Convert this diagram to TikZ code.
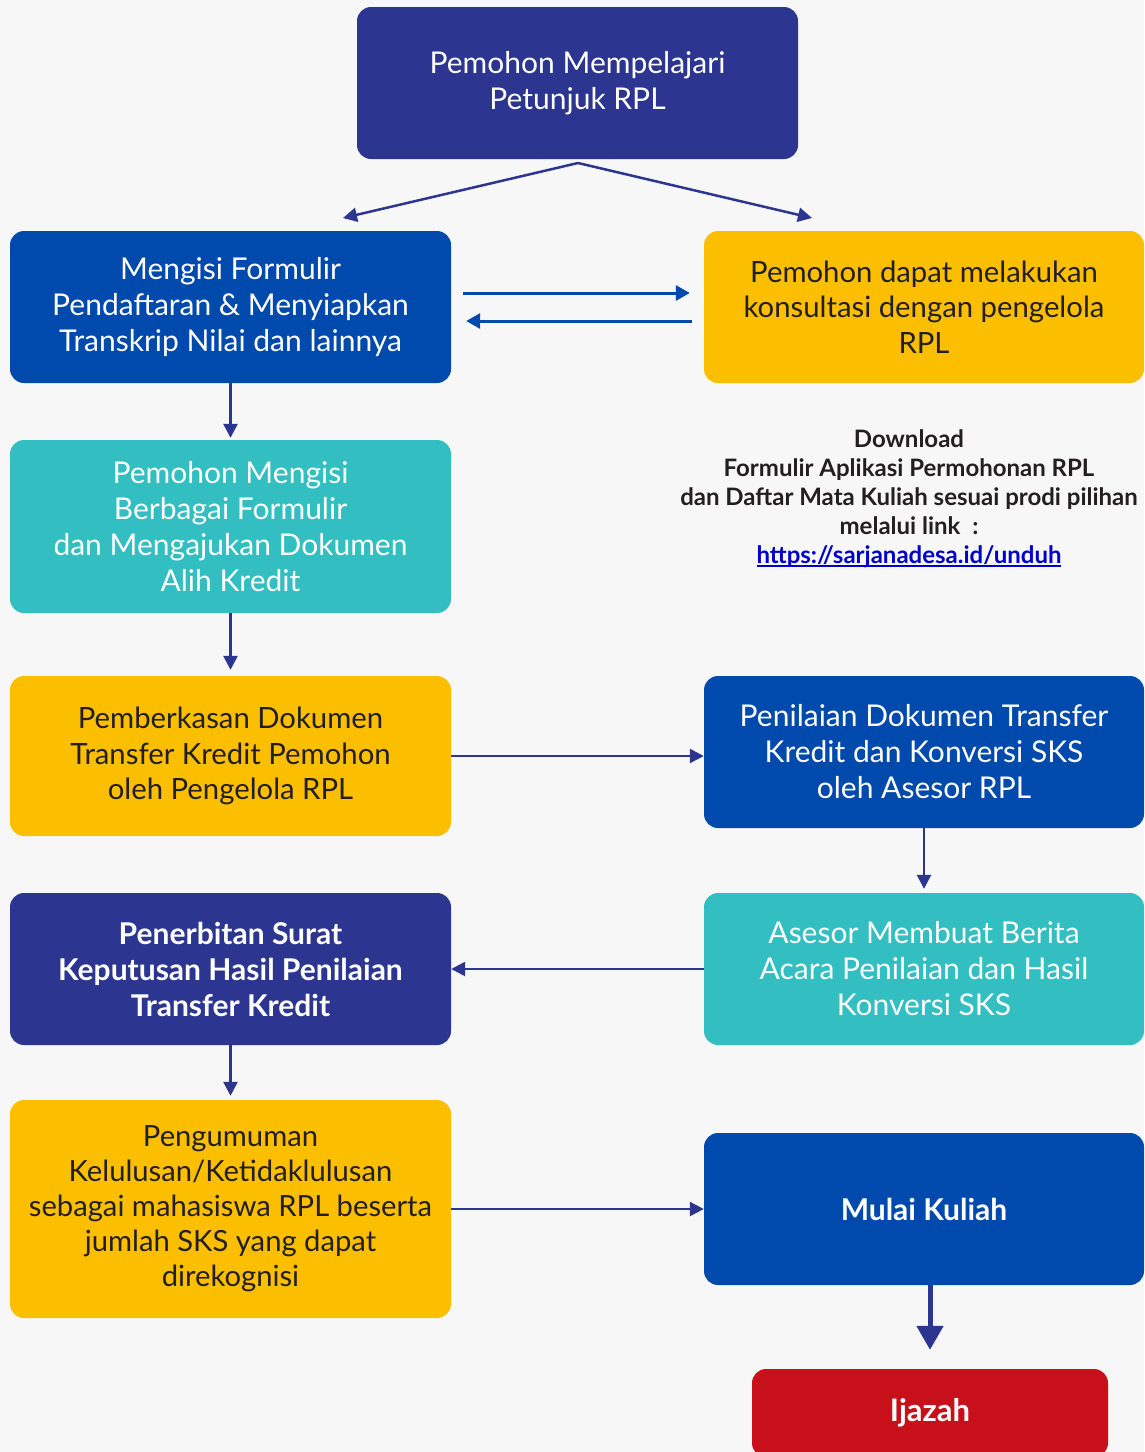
\documentclass[tikz,border=0pt]{standalone}
\usepackage{fontspec}
\setmainfont{Lato}
\usetikzlibrary{arrows.meta}
\definecolor{navy}{HTML}{2C3590}
\definecolor{royal}{HTML}{004AAD}
\definecolor{tosca}{HTML}{33BFC2}
\definecolor{kuning}{HTML}{FBBF00}
\definecolor{merah}{HTML}{C8101A}
\definecolor{latar}{HTML}{F7F7F7}
\definecolor{tinta}{HTML}{231F20}
\definecolor{tautan}{HTML}{0000CC}
% thick underline for the link
\newsavebox{\linkbox}
\newcommand{\garisbawah}[1]{\sbox{\linkbox}{#1}\rlap{\usebox{\linkbox}}\rule[-3.5pt]{\wd\linkbox}{2pt}}

\begin{document}
\begin{tikzpicture}[x=1pt,y=-1pt,%
% common options for blocks:
block/.style = {rounded corners=14pt, align=center, inner sep=0,
            minimum width=441pt, minimum height=152pt,
            font=\fontsize{30}{36}\selectfont},
% yellow blocks have a slightly smaller text
yblock/.style = {block, fill=kuning, text=tinta, font=\fontsize{29.3}{35.3}\selectfont},
% common options for the arrows:
flow/.style = {draw=navy, line width=2.5pt, -{Triangle[width=14pt,length=14pt]}},
flowb/.style = {draw=royal, line width=3pt, -{Triangle[width=15pt,length=14pt]}}]
\useasboundingbox (0,0) rectangle (1144,1452);
\fill[latar] (0,0) rectangle (1144,1452);
\node[block,fill=navy,text=white] (petunjuk) at (577.5,83) {Pemohon Mempelajari\\Petunjuk RPL};
\node[block,fill=royal,text=white] (formulir) at (230.5,307) {Mengisi Formulir\\Pendaftaran \& Menyiapkan\\Transkrip Nilai dan lainnya};
\node[yblock,minimum width=440pt] (konsultasi) at (924,307) {Pemohon dapat melakukan\\konsultasi dengan pengelola\\RPL};
\node[block,fill=tosca,text=white,minimum height=173pt] (mengisi) at (230.5,526.5) {Pemohon Mengisi\\Berbagai Formulir\\dan Mengajukan Dokumen\\Alih Kredit};
\node[yblock,minimum height=160pt] (pemberkasan) at (230.5,756) {Pemberkasan Dokumen\\Transfer Kredit Pemohon\\oleh Pengelola RPL};
\node[block,fill=royal,text=white,minimum width=440pt] (penilaian) at (924,752) {Penilaian Dokumen Transfer\\Kredit dan Konversi SKS\\oleh Asesor RPL};
\node[block,fill=tosca,text=white,minimum width=440pt] (asesor) at (924,969) {Asesor Membuat Berita\\Acara Penilaian dan Hasil\\Konversi SKS};
\node[block,fill=navy,text=white,font=\fontsize{30}{36}\selectfont\bfseries] (sk) at (230.5,969) {Penerbitan Surat\\Keputusan Hasil Penilaian\\Transfer Kredit};
\node[yblock,minimum height=218pt,font=\fontsize{29.2}{35}\selectfont] (pengumuman) at (230.5,1209) {Pengumuman\\Kelulusan/Ketidaklulusan\\sebagai mahasiswa RPL beserta\\jumlah SKS yang dapat\\direkognisi};
\node[block,fill=royal,text=white,minimum width=440pt,font=\fontsize{30}{36}\selectfont\bfseries] (kuliah) at (924,1209) {Mulai Kuliah};
\node[block,fill=merah,text=white,minimum width=356pt,minimum height=88pt,font=\fontsize{31}{36}\selectfont\bfseries] (ijazah) at (930,1413) {Ijazah};
\node[align=center,text=tinta,font=\fontsize{24}{29}\selectfont\bfseries] (unduh) at (909,499) {Download\\Formulir Aplikasi Permohonan RPL\\dan Daftar Mata Kuliah sesuai prodi pilihan\\melalui link~~:\\\textcolor{tautan}{\garisbawah{https://sarjanadesa.id/unduh}}};
% split arrows from the top block
\coordinate (pisah) at (578,163);
\coordinate (kiri) at (343,218);
\coordinate (kanan) at (812,218);
\draw[flow] (pisah) -- (kiri);
\draw[flow] (pisah) -- (kanan);
\draw[flowb] ([xshift=12pt,yshift=14pt]formulir.east) -- ([xshift=-14pt,yshift=14pt]konsultasi.west);
\draw[flowb] ([xshift=-12pt,yshift=-14pt]konsultasi.west) -- ([xshift=15pt,yshift=-14pt]formulir.east);
\draw[flow,shorten >=2pt] (formulir.south) -- (mengisi.north);
\draw[flow,shorten >=6pt] (mengisi.south) -- (pemberkasan.north);
\draw[flow] (pemberkasan.east) -- (pemberkasan.east -| penilaian.west);
\draw[flow,shorten >=4pt] (penilaian.south) -- (asesor.north);
\draw[flow] (asesor.west) -- (sk.east);
\draw[flow,shorten >=4pt] (sk.south) -- (pengumuman.north);
\draw[flow] (pengumuman.east) -- (kuliah.west);
\draw[draw=navy,line width=5pt,-{Triangle[width=26pt,length=24pt]},shorten >=19pt] (kuliah.south -| ijazah.north) -- (ijazah.north);
\end{tikzpicture}
\end{document}
